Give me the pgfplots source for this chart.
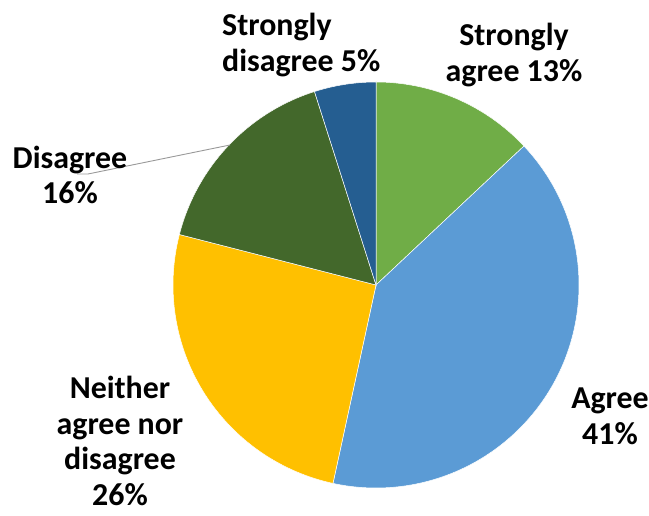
\documentclass[border=0pt]{standalone}
\usepackage{fontspec}
\setmainfont{Carlito}
\usepackage{pgfplots}
\pgfplotsset{compat=1.18}
\usepackage{pgfplotstable}
\definecolor{slice0}{HTML}{70AD47}
\definecolor{slice1}{HTML}{5B9BD5}
\definecolor{slice2}{HTML}{FFC000}
\definecolor{slice3}{HTML}{43682B}
\definecolor{slice4}{HTML}{255E91}
\pgfplotstableread{
label value
StronglyAgree 13.0
Agree 40.4
Neither 25.6
Disagree 16.1
StronglyDisagree 4.9
}\piedata
\begin{document}
\begin{tikzpicture}
\begin{axis}[scale only axis, width=649bp, height=516bp,
  xmin=0, xmax=649, ymin=0, ymax=516, hide axis, clip=false]
\path (rel axis cs:0,0) rectangle (rel axis cs:1,1);
\def\cum{0}
\pgfplotsforeachungrouped \i in {0,...,4}{
  \pgfplotstablegetelem{\i}{value}\of\piedata
  \pgfmathsetmacro\sa{90-3.6*\cum}
  \pgfmathsetmacro\ea{90-3.6*(\cum+\pgfplotsretval)}
  \pgfmathsetmacro\cum{\cum+\pgfplotsretval}
  \edef\temp{\noexpand\fill[fill=slice\i, draw=white, line width=0.5bp] (axis cs:376,231) -- ++(\sa:203bp) arc[start angle=\sa, end angle=\ea, radius=203bp] -- cycle;}
  \temp
}
\draw[black!40, line width=0.9bp] (axis cs:77,342) -- (axis cs:88,342) -- (axis cs:230,371);
\tikzset{lab/.style={font=\bfseries\fontsize{32}{36}\selectfont, inner sep=0pt}}
\node[lab, align=center] at (axis cs:514,461) {Strongly\\agree 13\%};
\node[lab, align=left, anchor=west] at (axis cs:222,471) {Strongly\\disagree 5\%};
\node[lab, align=center] at (axis cs:70,341) {Disagree\\16\%};
\node[lab, align=center] at (axis cs:120,75) {Neither\\agree nor\\disagree\\26\%};
\node[lab, align=center] at (axis cs:610,100) {Agree\\41\%};
\end{axis}
\end{tikzpicture}
\end{document}
